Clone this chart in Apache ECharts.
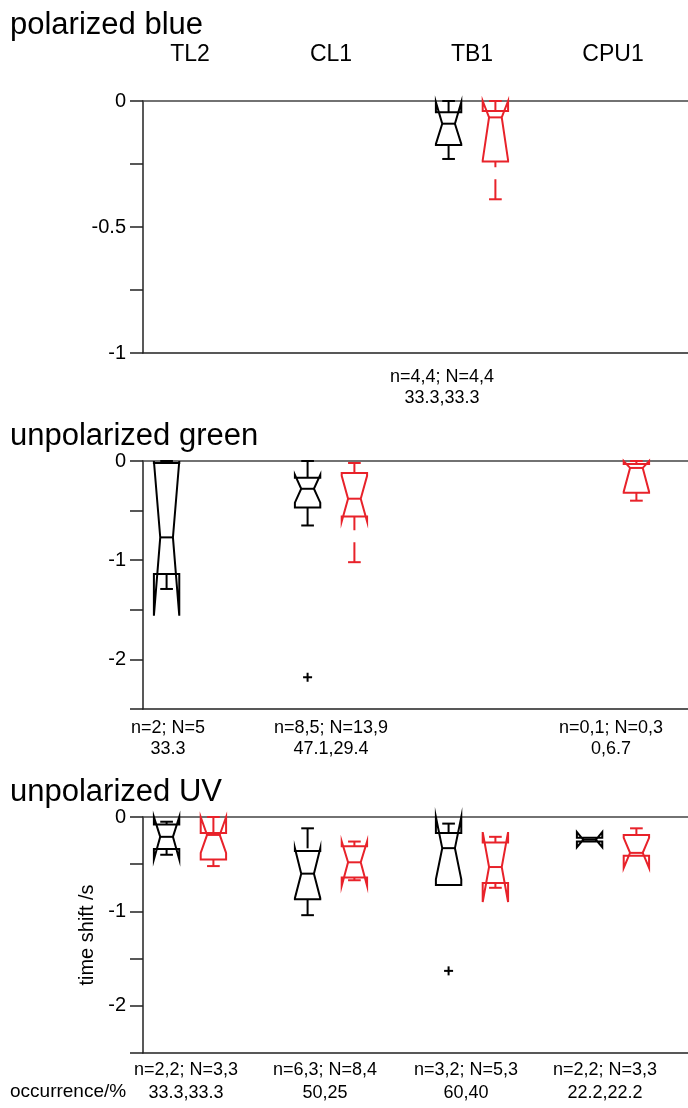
<!DOCTYPE html>
<html>
<head>
<meta charset="utf-8">
<script src="https://cdn.jsdelivr.net/npm/echarts@6/dist/echarts.min.js"></script>
<style>
html, body { margin: 0; padding: 0; background: #fff; }
#main { width: 688px; height: 1108px; }
</style>
</head>
<body>
<div id="main"></div>
<script>
// categories / titles
var cats = ['TL2', 'CL1', 'TB1', 'CPU1'];
var panelTitles = ['polarized blue', 'unpolarized green', 'unpolarized UV'];

// one row per box: [category no., whisker low, q1, notch low, median, notch high, q3, whisker high]
var blueBlack = [[3, -0.23, -0.175, -0.17, -0.09, -0.005, -0.045, 0]];
var blueRed = [[3, -0.39, -0.24, -0.235, -0.065, 0, -0.04, 0]];

var greenBlack = [
    [1, -1.29, -1.14, -1.56, -0.77, 0, -0.02, 0],
    [2, -0.65, -0.47, -0.42, -0.28, -0.14, -0.17, 0]
];
var greenRed = [
    [2, -1.02, -0.56, -0.61, -0.38, -0.15, -0.12, -0.02],
    [4, -0.40, -0.32, -0.31, -0.07, 0, -0.03, 0]
];

var uvBlack = [
    [1, -0.40, -0.34, -0.45, -0.21, 0, -0.08, -0.05],
    [2, -1.04, -0.87, -0.86, -0.60, -0.33, -0.36, -0.12],
    [3, -0.72, -0.72, -0.66, -0.33, 0, -0.17, -0.07],
    [4, -0.26, -0.26, -0.32, -0.24, -0.16, -0.22, -0.22]
];
var uvRed = [
    [1, -0.52, -0.45, -0.38, -0.19, 0, -0.17, 0],
    [2, -0.67, -0.64, -0.73, -0.48, -0.26, -0.31, -0.26],
    [3, -0.75, -0.70, -0.90, -0.53, -0.16, -0.27, -0.21],
    [4, -0.41, -0.41, -0.54, -0.38, -0.22, -0.19, -0.12]
];

// outliers: [category no., value]
var greenOutBlack = [[2, -2.18]];
var uvOutBlack = [[3, -1.63]];

// texts under each panel
var blueNotes = ['', '', 'n=4,4; N=4,4\n33.3,33.3', ''];
var greenNotes = ['n=2; N=5\n33.3', 'n=8,5; N=13,9\n47.1,29.4', '', 'n=0,1; N=0,3\n0,6.7'];
var uvNotes = ['n=2,2; N=3,3\n33.3,33.3', 'n=6,3; N=8,4\n50,25', 'n=3,2; N=5,3\n60,40', 'n=2,2; N=3,3\n22.2,22.2'];

var FONT = 'Liberation Sans, Arial, Helvetica, sans-serif';
var BLACK = '#000';
var RED = '#e8222a';
var AXC = '#222';

var dom = document.getElementById('main');
var myChart = echarts.init(dom);

// notched box like matlab boxplot
function notchBox(side, color) {
    return function (params, api) {
        var x = api.value(0) + side * 0.166;
        var cx = api.coord([x, 0])[0];
        var w = api.size([0.18, 0])[0] / 2;
        var y = function (i) { return api.coord([x, api.value(i)])[1]; };
        var wl = y(1), q1 = y(2), nl = y(3), md = y(4), nh = y(5), q3 = y(6), wh = y(7);
        var st = { stroke: color, lineWidth: 2, fill: 'none' };
        var dash = { stroke: color, lineWidth: 2, lineDash: [20, 12] };
        var kids = [];
        kids.push({
            type: 'polygon',
            shape: { points: [
                [cx - w, q1], [cx - w, nl], [cx - w / 2, md], [cx - w, nh], [cx - w, q3],
                [cx + w, q3], [cx + w, nh], [cx + w / 2, md], [cx + w, nl], [cx + w, q1]
            ] },
            style: st
        });
        kids.push({ type: 'line', shape: { x1: cx - w / 2, y1: md, x2: cx + w / 2, y2: md }, style: st });
        if (Math.abs(wl - q1) > 0.5) {
            kids.push({ type: 'line', shape: { x1: cx, y1: wl, x2: cx, y2: q1 }, style: dash });
            kids.push({ type: 'line', shape: { x1: cx - w / 2, y1: wl, x2: cx + w / 2, y2: wl }, style: st });
        }
        if (Math.abs(wh - q3) > 0.5) {
            kids.push({ type: 'line', shape: { x1: cx, y1: wh, x2: cx, y2: q3 }, style: dash });
            kids.push({ type: 'line', shape: { x1: cx - w / 2, y1: wh, x2: cx + w / 2, y2: wh }, style: st });
        }
        return { type: 'group', children: kids };
    };
}

function plusMark(side, color) {
    return function (params, api) {
        var p = api.coord([api.value(0) + side * 0.166, api.value(1)]);
        var s = 4.5;
        var st = { stroke: color, lineWidth: 2 };
        return { type: 'group', children: [
            { type: 'line', shape: { x1: p[0] - s, y1: p[1], x2: p[0] + s, y2: p[1] }, style: st },
            { type: 'line', shape: { x1: p[0], y1: p[1] - s, x2: p[0], y2: p[1] + s }, style: st }
        ] };
    };
}

// panel geometry
var tops = [101, 461, 817];
var heights = [252, 248, 236];
var mins = [-1, -2.5, -2.5];
var steps = [0.25, 0.5, 0.5];
var labelSteps = [0.5, 1, 1];
var titleTops = [10, 421, 777];
var noteMargins = [14, 9, 6];
var noteLine = [21, 21, 23];
// horizontal nudge (px, + = left) of the notes under each category
var noteNudge = [[0, 0, 30, 0], [22, 0, 0, 2], [4, 6, 6, 8]];

var grids = [], xAxes = [], yAxes = [], titles = [], series = [];
var boxSets = [[blueBlack, blueRed, []], [greenBlack, greenRed, greenOutBlack], [uvBlack, uvRed, uvOutBlack]];
var notes = [blueNotes, greenNotes, uvNotes];

for (var p = 0; p < 3; p++) {
    grids.push({ left: 143, right: 0, top: tops[p], height: heights[p] });
    titles.push({
        text: panelTitles[p], left: 10, top: titleTops[p], padding: 0,
        textStyle: { fontSize: 31, fontWeight: 'normal', color: '#000', fontFamily: FONT }
    });
    // bottom and top lines of the plot
    xAxes.push({
        type: 'value', gridIndex: p, position: 'bottom', min: 0.6667, max: 4.532,
        axisLine: { show: true, onZero: false, lineStyle: { color: AXC, width: 1.5 } },
        axisTick: { show: false }, axisLabel: { show: false }, splitLine: { show: false }
    });
    xAxes.push({
        type: 'value', gridIndex: p, position: 'top', min: 0.6667, max: 4.532,
        axisLine: { show: true, onZero: false, lineStyle: { color: '#444', width: 1.5 } },
        axisTick: { show: false }, axisLabel: { show: false }, splitLine: { show: false }
    });
    (function (ls) {
        yAxes.push({
            type: 'value', gridIndex: p, min: mins[p], max: 0, interval: steps[p],
            name: p === 2 ? 'time shift /s' : '', nameLocation: 'middle', nameGap: 44,
            nameTextStyle: { fontSize: 20, color: '#000', fontFamily: FONT },
            axisLine: { show: true, onZero: false, lineStyle: { color: AXC, width: 1.5 } },
            axisTick: { show: true, length: 13, lineStyle: { color: AXC, width: 1.5 } },
            axisLabel: {
                fontSize: 20, color: '#000', margin: 17, fontFamily: FONT,
                formatter: function (v) {
                    var r = Math.abs(v / ls - Math.round(v / ls));
                    return r < 1e-6 ? String(Math.round(v * 10) / 10) : '';
                }
            },
            splitLine: { show: false }
        });
    })(labelSteps[p]);
    series.push({
        type: 'custom', xAxisIndex: p * 2, yAxisIndex: p,
        renderItem: notchBox(-1, BLACK), data: boxSets[p][0], silent: true
    });
    series.push({
        type: 'custom', xAxisIndex: p * 2, yAxisIndex: p,
        renderItem: notchBox(1, RED), data: boxSets[p][1], silent: true
    });
    series.push({
        type: 'custom', xAxisIndex: p * 2, yAxisIndex: p,
        renderItem: plusMark(-1, BLACK), data: boxSets[p][2], silent: true
    });
}

// label grids: category bands centred on the box pairs
for (var q = 0; q < 3; q++) {
    grids.push({ left: 119.5, right: 4.5, top: tops[q], height: heights[q] });
    yAxes.push({ type: 'value', gridIndex: 3 + q, show: false });
}
xAxes.push({
    type: 'category', gridIndex: 3, position: 'top', data: cats,
    axisLine: { show: false }, axisTick: { show: false }, splitLine: { show: false },
    axisLabel: { interval: 0, margin: 35, fontSize: 23, color: '#000', fontFamily: FONT }
});
for (var k = 0; k < 3; k++) {
    (function (idx) {
        var rich = {};
        for (var j = 0; j < 4; j++) {
            rich['s' + j] = {
                fontSize: 18, lineHeight: noteLine[idx], fontFamily: FONT, color: '#000',
                padding: [0, noteNudge[idx][j] * 2, 0, 0]
            };
        }
        xAxes.push({
            type: 'category', gridIndex: 3 + idx, position: 'bottom', data: notes[idx],
            axisLine: { show: false }, axisTick: { show: false }, splitLine: { show: false },
            axisLabel: {
                interval: 0, margin: noteMargins[idx], fontSize: 18, lineHeight: noteLine[idx],
                color: '#000', fontFamily: FONT,
                formatter: function (v, i) {
                    if (!v) return '';
                    return v.split('\n').map(function (s) { return '{s' + i + '|' + s + '}'; }).join('\n');
                },
                rich: rich
            }
        });
    })(k);
}

var option = {
    backgroundColor: '#fff',
    animation: false,
    textStyle: { fontFamily: FONT },
    title: titles,
    grid: grids,
    xAxis: xAxes,
    yAxis: yAxes,
    graphic: [{
        type: 'text', left: 10, top: 1082,
        style: { text: 'occurrence/%', fontSize: 19, fill: '#000', fontFamily: FONT }
    }],
    series: series
};

myChart.setOption(option, true);
</script>
</body>
</html>
